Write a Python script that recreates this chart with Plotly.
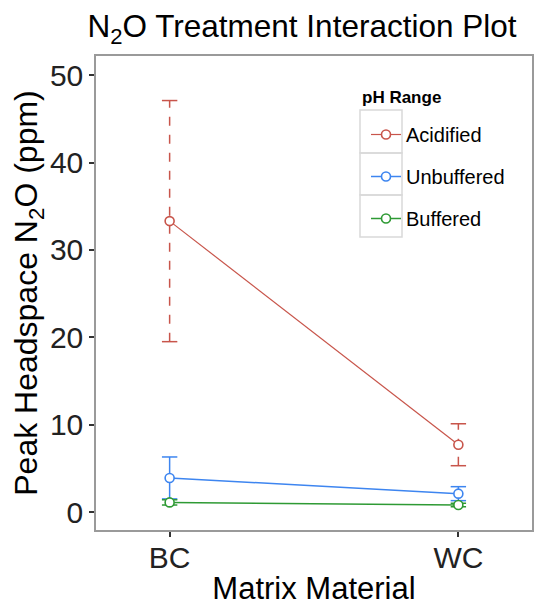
import plotly.graph_objects as go

# ---- data ----
matrix = ["BC", "WC"]
groups = ["Acidified", "Unbuffered", "Buffered"]
means = {
    "Acidified": [33.3, 7.7],
    "Unbuffered": [3.9, 2.1],
    "Buffered": [1.1, 0.8],
}
errs = {
    "Acidified": [13.8, 2.4],
    "Unbuffered": [2.4, 0.8],
    "Buffered": [0.3, 0.2],
}
colors = {"Acidified": "#C8554B", "Unbuffered": "#3D85F0", "Buffered": "#2E9A34"}
err_dash = {"Acidified": "dash", "Unbuffered": "solid", "Buffered": "solid"}

FONT = "Liberation Sans, Arial, sans-serif"

fig = go.Figure()

# error bars (drawn below points)
for g in groups:
    xs, ys, capx, capy = [], [], [], []
    for m, v, e in zip(matrix, means[g], errs[g]):
        xs += [m, m, None]
        ys += [v - e, v + e, None]
        capx += [m, m]
        capy += [v - e, v + e]
    fig.add_trace(go.Scatter(x=xs, y=ys, mode="lines", showlegend=False,
                             line=dict(color=colors[g], width=1.5, dash=err_dash[g]),
                             hoverinfo="skip"))
    fig.add_trace(go.Scatter(x=capx, y=capy, mode="markers", showlegend=False,
                             marker=dict(symbol="line-ew", size=11,
                                         line=dict(color=colors[g], width=1.5)),
                             hoverinfo="skip"))

# lines + points
for i, g in enumerate(groups):
    fig.add_trace(go.Scatter(
        x=matrix, y=means[g], mode="lines+markers", name=g,
        legendgroup=g,
        line=dict(color=colors[g], width=1.2 if g == "Acidified" else 1.5),
        marker=dict(symbol="circle", size=9, color="white",
                    line=dict(color=colors[g], width=1.6)),
    ))

# screen geometry of the panel (page body has an 8px margin)
plot_top, plot_bot, plot_left, plot_w = 56, 530, 96, 436
def px(xp):
    return (xp - plot_left) / plot_w
def py(yp):
    return (plot_bot - yp) / (plot_bot - plot_top)

# legend key boxes (ggplot style)
box_rows = [(110, 153), (153, 195), (195, 237)]
for top, bot in box_rows:
    fig.add_shape(type="rect", xref="paper", yref="paper",
                  x0=px(360), x1=px(402), y0=py(bot), y1=py(top),
                  line=dict(color="#D9D9D9", width=1.5), fillcolor="rgba(0,0,0,0)",
                  layer="below")

fig.add_annotation(text="<b>pH Range</b>", xref="paper", yref="paper",
                   x=px(360), y=py(97), xanchor="left", yanchor="middle",
                   showarrow=False, font=dict(size=17, family=FONT, color="black"))

fig.update_layout(
    width=534, height=598,
    margin=dict(l=88, r=10, t=48, b=76),
    paper_bgcolor="white", plot_bgcolor="white",
    font=dict(family=FONT, color="black"),
    title=dict(text="N<sub>2</sub>O Treatment Interaction Plot",
               x=0.5506, xanchor="center", y=0.988, yanchor="top",
               font=dict(size=31.5, color="black", family=FONT)),
    showlegend=True,
    legend=dict(
        x=px(366), xanchor="left",
        y=py(115), yanchor="top",
        font=dict(size=20, family=FONT, color="black"),
        tracegroupgap=13,
        bgcolor="rgba(0,0,0,0)",
    ),
    xaxis=dict(
        type="category", range=[-0.255, 1.255], automargin=False,
        showline=True, mirror=True, linecolor="#9A9A9A", linewidth=1.5,
        showgrid=False, zeroline=False,
        ticks="outside", ticklen=5, tickcolor="#333333", tickwidth=1.5,
        tickfont=dict(size=30, color="#222222", family=FONT),
        ticklabelstandoff=-5,
        title=dict(text="Matrix Material", font=dict(size=31, family=FONT), standoff=13),
    ),
    yaxis=dict(
        range=[-2.06, 52.2], automargin=False,
        tickvals=[0, 10, 20, 30, 40, 50],
        showline=True, mirror=True, linecolor="#9A9A9A", linewidth=1.5,
        showgrid=False, zeroline=False,
        ticks="outside", ticklen=5, tickcolor="#333333", tickwidth=1.5,
        tickfont=dict(size=30, color="#222222", family=FONT),
        title=dict(text="Peak Headspace N<sub>2</sub>O (ppm)",
                   font=dict(size=32, family=FONT), standoff=6),
    ),
)

fig.write_html("out.html")
